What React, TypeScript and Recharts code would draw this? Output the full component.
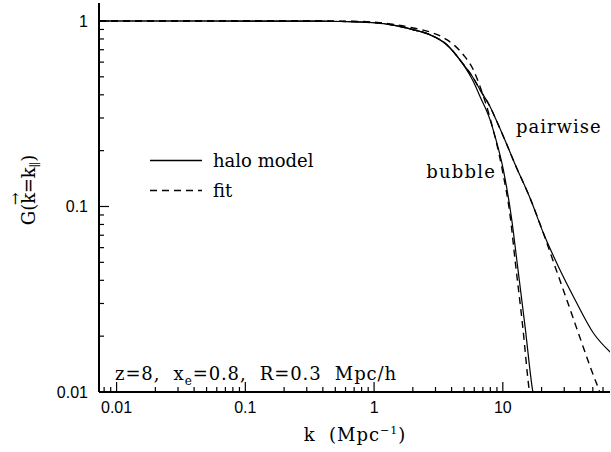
import React from 'react';
import { LineChart, Line, XAxis, YAxis } from 'recharts';

// ---- data ----
const kBubbleModel = [0.0073, 0.05, 0.2, 0.4, 0.65, 1.0, 1.4, 2.0, 2.7, 3.67, 4.93, 5.9, 6.65, 7.95, 8.7, 10.09, 11.73, 13.0, 14.88, 17.08, 17.5];
const gBubbleModel = [1, 1, 0.999, 0.997, 0.993, 0.978, 0.95, 0.898, 0.844, 0.745, 0.581, 0.472, 0.392, 0.294, 0.239, 0.158, 0.0849, 0.048, 0.0226, 0.0101, 0.0092];

const kBubbleFit = [0.0073, 0.05, 0.2, 0.4, 0.65, 1.11, 2.02, 2.72, 3.67, 4.93, 5.9, 6.65, 7.95, 9.9, 11.5, 12.44, 14.27, 16.07, 16.5];
const gBubbleFit = [1, 1, 1, 0.999, 0.997, 0.98, 0.917, 0.872, 0.793, 0.658, 0.546, 0.444, 0.3, 0.158, 0.0849, 0.0517, 0.0226, 0.0101, 0.0089];

const kPairModel = [0.0073, 0.05, 0.2, 0.4, 0.65, 1.0, 1.4, 2.0, 2.7, 3.67, 4.93, 5.9, 6.65, 7.95, 8.85, 10.5, 12.44, 16.27, 20.64, 26.99, 36.39, 50.5, 69.3];
const gPairModel = [1, 1, 0.999, 0.997, 0.993, 0.978, 0.95, 0.898, 0.844, 0.745, 0.585, 0.493, 0.426, 0.346, 0.294, 0.224, 0.169, 0.111, 0.072, 0.0475, 0.03145, 0.0208, 0.01623];

const kPairFit = [0.0073, 0.05, 0.2, 0.4, 0.65, 1.0, 1.4, 2.0, 2.7, 3.67, 4.93, 5.9, 6.65, 7.95, 8.85, 10.5, 12.44, 16.27, 20.64, 25.44, 31.37, 38.6, 47.6, 56.9, 58.5];
const gPairFit = [1, 1, 0.999, 0.997, 0.993, 0.978, 0.95, 0.898, 0.844, 0.745, 0.585, 0.493, 0.426, 0.346, 0.294, 0.224, 0.169, 0.111, 0.072, 0.0475, 0.03145, 0.0208, 0.01374, 0.00991, 0.0094];

const xTicks = [0.008, 0.009, 0.01, 0.02, 0.03, 0.04, 0.05, 0.06, 0.07, 0.08, 0.09, 0.1, 0.2, 0.3, 0.4, 0.5, 0.6, 0.7, 0.8, 0.9, 1, 2, 3, 4, 5, 6, 7, 8, 9, 10, 20, 30, 40, 50, 60];
const yTicks = [0.01, 0.02, 0.03, 0.04, 0.05, 0.06, 0.07, 0.08, 0.09, 0.1, 0.2, 0.3, 0.4, 0.5, 0.6, 0.7, 0.8, 0.9, 1];
const xDomain = [0.0073, 68];
const yDomain = [0.01, 1.25];

const toRows = (ks: number[], gs: number[]) => ks.map((k, i) => ({ k, G: gs[i] }));
const bubbleModel = toRows(kBubbleModel, gBubbleModel);
const bubbleFit = toRows(kBubbleFit, gBubbleFit);
const pairModel = toRows(kPairModel, gPairModel);
const pairFit = toRows(kPairFit, gPairFit);

const isMajor = (v: number) => Math.abs(Math.log10(v) - Math.round(Math.log10(v))) < 1e-9;
const MAJ = 10;
const MIN = 5;
const tickFont = { fontFamily: 'Liberation Sans, Arial, sans-serif', fontSize: 16, fill: '#000' };
const serif = 'DejaVu Serif, serif';
const S = '\u00A0';

const BottomTick = (p: any) => {
  const major = isMajor(p.payload.value);
  return (
    <g>
      <line x1={p.x} x2={p.x} y1={p.y} y2={p.y - (major ? MAJ : MIN)} stroke="#000" strokeWidth={1.2} />
      {major && (
        <text x={p.x} y={p.y + 21} textAnchor="middle" {...tickFont}>{String(p.payload.value)}</text>
      )}
    </g>
  );
};
const TopTick = (p: any) => {
  const major = isMajor(p.payload.value);
  return <line x1={p.x} x2={p.x} y1={p.y} y2={p.y + (major ? MAJ : MIN)} stroke="#000" strokeWidth={1.2} />;
};
const LeftTick = (p: any) => {
  const major = isMajor(p.payload.value);
  return (
    <g>
      <line x1={p.x} x2={p.x + (major ? MAJ : MIN)} y1={p.y} y2={p.y} stroke="#000" strokeWidth={1.2} />
      {major && (
        <text x={p.x - 11} y={p.y + 6} textAnchor="end" {...tickFont}>{String(p.payload.value)}</text>
      )}
    </g>
  );
};
const RightTick = (p: any) => {
  const major = isMajor(p.payload.value);
  return <line x1={p.x} x2={p.x - (major ? MAJ : MIN)} y1={p.y} y2={p.y} stroke="#000" strokeWidth={1.2} />;
};

const axisLine = { stroke: '#000', strokeWidth: 2 };

export default function App() {
  return (
    <div style={{ position: 'absolute', left: 0, top: 0, width: 611, height: 452, background: '#fff' }}>
      <LineChart width={611} height={452} margin={{ top: 3, right: 1, bottom: 0, left: 0 }}>
        <XAxis xAxisId="b" dataKey="k" type="number" scale="log" domain={xDomain} allowDataOverflow
          orientation="bottom" height={60} ticks={xTicks} interval={0} tickSize={0} tickMargin={0}
          tickLine={false} tick={BottomTick} axisLine={axisLine} />
        <XAxis xAxisId="t" dataKey="k" type="number" scale="log" domain={xDomain} allowDataOverflow
          orientation="top" height={0} ticks={xTicks} interval={0} tickSize={0} tickMargin={0}
          tickLine={false} tick={TopTick} axisLine={axisLine} />
        <YAxis yAxisId="l" type="number" scale="log" domain={yDomain} allowDataOverflow
          orientation="left" width={99} ticks={yTicks} interval={0} tickSize={0} tickMargin={0}
          tickLine={false} tick={LeftTick} axisLine={axisLine} />
        <YAxis yAxisId="r" type="number" scale="log" domain={yDomain} allowDataOverflow
          orientation="right" width={0} ticks={yTicks} interval={0} tickSize={0} tickMargin={0}
          tickLine={false} tick={RightTick} axisLine={axisLine} />
        <Line xAxisId="b" yAxisId="l" data={bubbleModel} dataKey="G" type="monotone" stroke="#000"
          strokeWidth={1.2} dot={false} isAnimationActive={false} />
        <Line xAxisId="b" yAxisId="l" data={pairModel} dataKey="G" type="monotone" stroke="#000"
          strokeWidth={1.2} dot={false} isAnimationActive={false} />
        <Line xAxisId="b" yAxisId="l" data={bubbleFit} dataKey="G" type="monotone" stroke="#000"
          strokeWidth={1.4} strokeDasharray="7 5" dot={false} isAnimationActive={false} />
        <Line xAxisId="b" yAxisId="l" data={pairFit} dataKey="G" type="monotone" stroke="#000"
          strokeWidth={1.4} strokeDasharray="7 5" dot={false} isAnimationActive={false} />
      </LineChart>
      <svg width={611} height={452} style={{ position: 'absolute', left: 0, top: 0, pointerEvents: 'none' }}>
        <g fontFamily={serif} fontSize={18} fill="#000">
          <line x1={150} x2={202} y1={160.5} y2={160.5} stroke="#000" strokeWidth={1.3} />
          <text x={213} y={167}>{`halo${S}model`}</text>
          <line x1={150} x2={202} y1={190.5} y2={190.5} stroke="#000" strokeWidth={1.4} strokeDasharray="7 5" />
          <text x={213} y={197}>fit</text>
          <text x={496} y={178} textAnchor="end" letterSpacing={1.2}>bubble</text>
          <text x={516} y={133} letterSpacing={1}>pairwise</text>
          <text x={115} y={380} letterSpacing={0.9}>
            {`z=8,${S}${S}x`}<tspan dy={5} fontSize={12}>e</tspan><tspan dy={-5}>{`=0.8,${S}${S}R=0.3${S}${S}Mpc/h`}</tspan>
          </text>
          <text x={355} y={441} textAnchor="middle" letterSpacing={1}>
            {`k${S}${S}(Mpc`}<tspan dy={-7} fontSize={11}>−1</tspan><tspan dy={7}>)</tspan>
          </text>
          <text transform="translate(35,190) rotate(-90)" textAnchor="middle">
            G(k<tspan dx={-12} dy={-15} fontSize={15}>→</tspan><tspan dx={-1} dy={15}>=k</tspan><tspan dy={4} fontSize={12}>∥</tspan><tspan dy={-4}>)</tspan>
          </text>
        </g>
      </svg>
    </div>
  );
}
